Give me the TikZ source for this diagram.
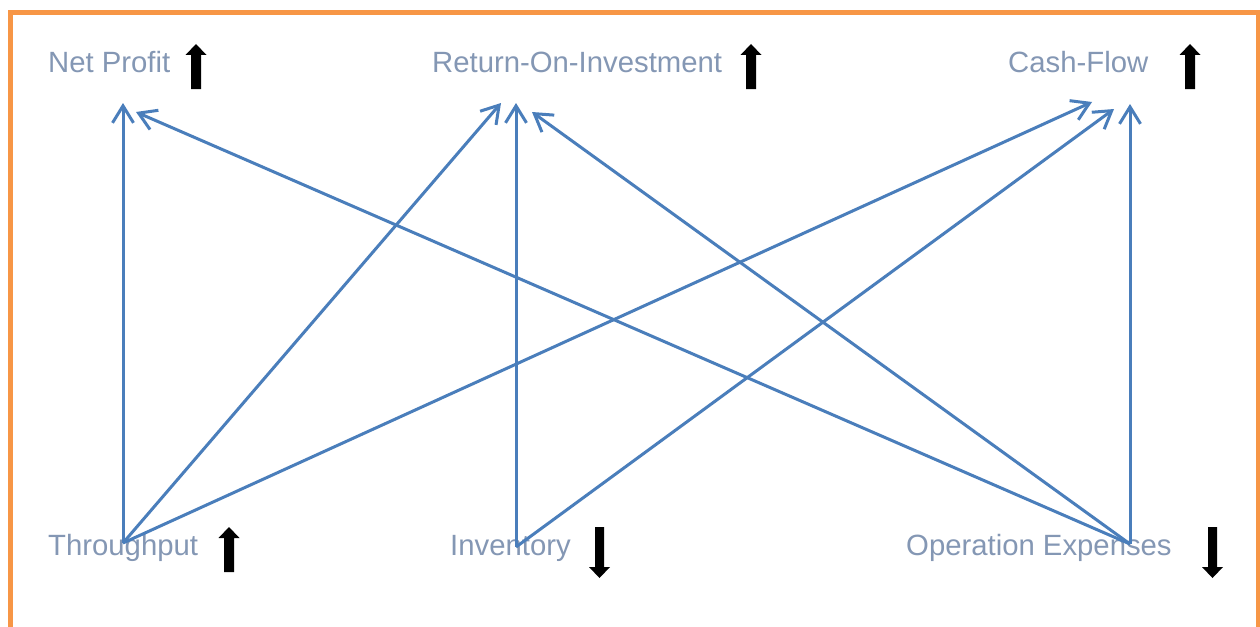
\documentclass[tikz,border=0pt]{standalone}
\usepackage{fontspec}
\setmainfont{Liberation Sans}
\usetikzlibrary{arrows.meta}
\definecolor{labcol}{RGB}{132,151,180}
\definecolor{linkcol}{RGB}{74,126,187}
\definecolor{framecol}{RGB}{247,150,70}
\tikzset{
  lab/.style={anchor=base west, inner sep=0pt, text=labcol, font=\fontsize{29.3}{34}\selectfont},
  link/.style={draw=linkcol, line width=3pt, -{Straight Barb[length=17pt,width=21pt,line width=3pt]}},
  uparr/.pic={\fill[black] (-5,0) -- (-5,-34) -- (-10.5,-34) -- (0,-45) -- (10.5,-34) -- (5,-34) -- (5,0) -- cycle;},
  downarr/.pic={\fill[black] (-4.5,0) -- (-4.5,40) -- (-10.5,40) -- (0,51) -- (10.5,40) -- (4.5,40) -- (4.5,0) -- cycle;}
}
\begin{document}
\begin{tikzpicture}[x=1pt,y=-1pt]
\useasboundingbox (0,0) rectangle (1260,626);
\clip (0,0) rectangle (1260,626);
\fill[white] (0,0) rectangle (1260,626);
\draw[framecol, line width=5pt] (10,13) rectangle (1258.5,660);

% labels
\node[lab] (np)  at (48,73)   {Net Profit};
\node[lab] (roi) at (432,73)  {Return-On-Investment};
\node[lab] (cf)  at (1008,73) {Cash-Flow};
\node[lab] (tp)  at (48,555)  {Throughput};
\node[lab] (inv) at (450,555) {Inventory};
\node[lab] (ox)  at (906,555) {Operation Expenses};

% block arrows
\pic at (196,89) {uparr};
\pic at (751,89) {uparr};
\pic at (1190,89) {uparr};
\pic at (229,572) {uparr};
\pic at (599.5,527) {downarr};
\pic at (1212.5,527) {downarr};

% connector end points
\coordinate (tp-o)  at (123,543);
\coordinate (inv-o) at (516,547);
\coordinate (ox-o)  at (1130,544);
\coordinate (np-v)  at (123,103);
\coordinate (np-x)  at (136,112);
\coordinate (roi-t) at (501,103);
\coordinate (roi-v) at (516,103);
\coordinate (roi-x) at (532,112);
\coordinate (cf-t)  at (1092,102);
\coordinate (cf-i)  at (1114,109);
\coordinate (cf-v)  at (1130,104);

% connectors
\draw[link] (tp-o) -- (np-v);
\draw[link] (tp-o) -- (roi-t);
\draw[link] (tp-o) -- (cf-t);
\draw[link] (inv-o) -- (roi-v);
\draw[link] (inv-o) -- (cf-i);
\draw[link] (ox-o) -- (np-x);
\draw[link] (ox-o) -- (roi-x);
\draw[link] (ox-o) -- (cf-v);
\end{tikzpicture}
\end{document}
